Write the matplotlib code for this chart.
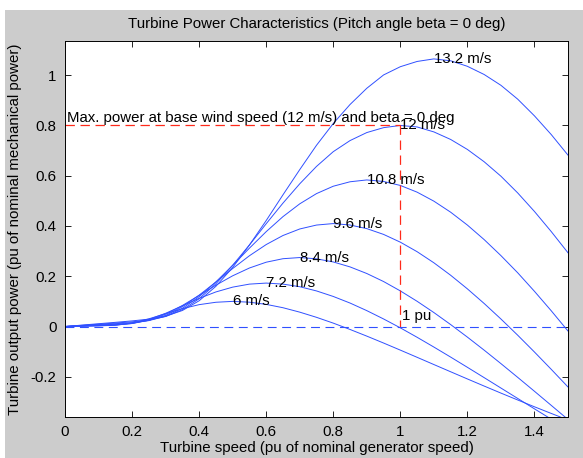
import matplotlib.pyplot as plt
from matplotlib.patches import Rectangle

# turbine speed (pu of nominal generator speed)
speed = [0.0, 0.05, 0.1, 0.15, 0.2, 0.25, 0.3, 0.35, 0.4, 0.45, 0.5,
         0.55, 0.6, 0.65, 0.7, 0.75, 0.8, 0.85, 0.9, 0.95, 1.0,
         1.05, 1.1, 1.15, 1.2, 1.25, 1.3, 1.35, 1.4, 1.45, 1.5]

# output power (pu) for each wind speed
p6 = [0, 0.0011, 0.0024, 0.0050, 0.0138, 0.0305, 0.0511, 0.0710, 0.0870, 0.0965, 0.1000,
      0.0968, 0.0881, 0.0748, 0.0572, 0.0366, 0.0135, -0.0117, -0.0382, -0.0657, -0.0939,
      -0.1225, -0.1513, -0.1800, -0.2086, -0.2369, -0.2649, -0.2923, -0.3194, -0.3458, -0.3718]
p72 = [0, 0.0017, 0.0033, 0.0055, 0.0121, 0.0278, 0.0526, 0.0823, 0.1119, 0.1376, 0.1567,
       0.1687, 0.1728, 0.1687, 0.1584, 0.1416, 0.1196, 0.0934, 0.0632, 0.0301, -0.0053,
       -0.0428, -0.0817, -0.1216, -0.1623, -0.2034, -0.2448, -0.2862, -0.3276, -0.3686, -0.4094]
p84 = [0, 0.0022, 0.0045, 0.0069, 0.0119, 0.0247, 0.0490, 0.0836, 0.1237, 0.1645, 0.2018,
       0.2328, 0.2559, 0.2698, 0.2744, 0.2694, 0.2569, 0.2372, 0.2109, 0.1790, 0.1417,
       0.1004, 0.0556, 0.0078, -0.0422, -0.0941, -0.1476, -0.2023, -0.2577, -0.3137, -0.3699]
p96 = [0, 0.0029, 0.0059, 0.0089, 0.0131, 0.0248, 0.0443, 0.0788, 0.1248, 0.1769, 0.2307,
       0.2816, 0.3261, 0.3621, 0.3881, 0.4037, 0.4096, 0.4039, 0.3895, 0.3665, 0.3356,
       0.2977, 0.2536, 0.2040, 0.1498, 0.0916, 0.0299, -0.0346, -0.1015, -0.1703, -0.2406]
p108 = [0, 0.0037, 0.0074, 0.0112, 0.0155, 0.0235, 0.0409, 0.0724, 0.1187, 0.1776, 0.2434,
        0.3118, 0.3775, 0.4372, 0.4881, 0.5288, 0.5582, 0.5759, 0.5832, 0.5771, 0.5613,
        0.5346, 0.4988, 0.4549, 0.4036, 0.3458, 0.2821, 0.2138, 0.1400, 0.0627, -0.0179]
p12 = [0, 0.0046, 0.0092, 0.0138, 0.0187, 0.0257, 0.0398, 0.0669, 0.1105, 0.1702, 0.2437,
       0.3245, 0.4090, 0.4910, 0.5678, 0.6370, 0.6957, 0.7398, 0.7717, 0.7912, 0.8000,
       0.7940, 0.7743, 0.7443, 0.7045, 0.6555, 0.5980, 0.5315, 0.4577, 0.3778, 0.2934]
p132 = [0, 0.0056, 0.0111, 0.0166, 0.0224, 0.0293, 0.0410, 0.0637, 0.1025, 0.1600, 0.2348,
        0.3243, 0.4217, 0.5240, 0.6242, 0.7211, 0.8077, 0.8833, 0.9479, 1.0009, 1.0337,
        1.0546, 1.0648, 1.0573, 1.0353, 1.0027, 0.9597, 0.9046, 0.8381, 0.7638, 0.6819]

curves = [p6, p72, p84, p96, p108, p12, p132]
wind_labels = ['6 m/s', '7.2 m/s', '8.4 m/s', '9.6 m/s', '10.8 m/s', '12 m/s', '13.2 m/s']

base_speed = 1.0
max_power = 0.8

xticks = [0, 0.2, 0.4, 0.6, 0.8, 1.0, 1.2, 1.4]
xticklabels = ['0', '0.2', '0.4', '0.6', '0.8', '1', '1.2', '1.4']
yticks = [-0.2, 0, 0.2, 0.4, 0.6, 0.8, 1.0]
yticklabels = ['-0.2', '0', '0.2', '0.4', '0.6', '0.8', '1']

plt.rcParams['font.family'] = ['Liberation Sans', 'DejaVu Sans']
fs = 10.8
blue = '#3050ff'

fig = plt.figure(figsize=(5.83, 4.58), dpi=100, facecolor='white')
# grey figure window area
fig.patches.append(Rectangle((5 / 583, 0), 1, 1 - 10 / 458, transform=fig.transFigure,
                             facecolor='#cccccc', edgecolor='none', zorder=-10))
ax = fig.add_axes([65 / 583, 1 - 417 / 458, 503 / 583, 376 / 458])
ax.set_facecolor('white')

for p in curves:
    ax.plot(speed, p, color=blue, lw=0.7)

# max power point markers
ax.plot([0, base_speed], [max_power, max_power], color='#ff2a1a', lw=0.9, dashes=[7.5, 4.5])
ax.plot([base_speed, base_speed], [max_power, 0], color='#ff2a1a', lw=0.9, dashes=[7.5, 4.5])
ax.plot([speed[0], speed[-1]], [0, 0], color=blue, lw=0.8, dashes=[8, 5])

for p, lab in zip(curves, wind_labels):
    i = p.index(max(p))
    ax.text(speed[i], p[i], lab, fontsize=fs, ha='left', va='center')

ax.text(0.005, max_power, 'Max. power at base wind speed (12 m/s) and beta = 0 deg',
        fontsize=fs, ha='left', va='bottom')
ax.text(base_speed + 0.005, 0.04, '1 pu', fontsize=fs, ha='left', va='center')

ax.set_xlim(0, 1.5)
ax.set_ylim(-0.36, 1.136)
ax.set_xticks(xticks)
ax.set_xticklabels(xticklabels)
ax.set_yticks(yticks)
ax.set_yticklabels(yticklabels)
ax.tick_params(direction='in', length=4, width=0.6, top=True, right=True,
               labelsize=fs)
ax.tick_params(axis='x', pad=6)
ax.tick_params(axis='y', pad=6)
for s in ax.spines.values():
    s.set_linewidth(0.7)

ax.set_title('Turbine Power Characteristics (Pitch angle beta = 0 deg)', fontsize=fs, pad=9)
ax.set_xlabel('Turbine speed (pu of nominal generator speed)', fontsize=fs, labelpad=1)
ax.set_ylabel('Turbine output power (pu of nominal mechanical power)', fontsize=fs, labelpad=6)

fig.savefig('out.png', dpi=100, facecolor='white')
